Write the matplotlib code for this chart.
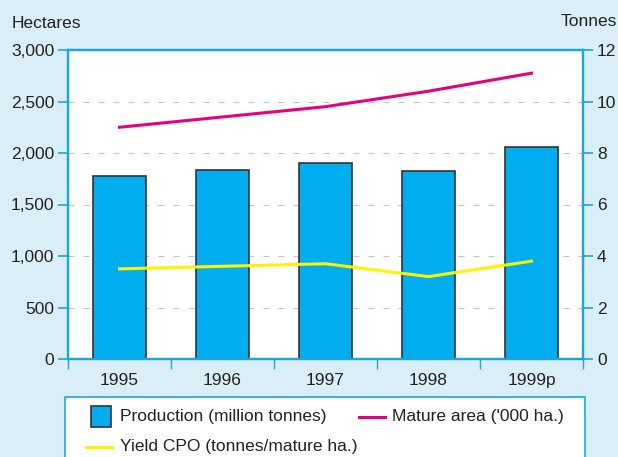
import matplotlib.pyplot as plt
from matplotlib.patches import Rectangle
from matplotlib.lines import Line2D

years = ['1995', '1996', '1997', '1998', '1999p']
production = [1780, 1835, 1905, 1825, 2055]
mature_area = [9.0, 9.4, 9.8, 10.4, 11.1]
yield_cpo = [3.5, 3.6, 3.7, 3.2, 3.8]

BG = '#d9eef6'
CYAN = '#00aeef'
AXIS = '#18a8e0'
PINK = '#e6007e'
YELLOW = '#fff200'
TEXT = '#222222'

plt.rcParams['font.family'] = ['Liberation Sans', 'DejaVu Sans']
plt.rcParams['font.size'] = 12.5

fig = plt.figure(figsize=(6.18, 4.57), dpi=100, facecolor=BG)
ax = fig.add_axes([68 / 618, 1 - 359 / 457, 515 / 618, 309 / 457])
ax2 = ax.twinx()

x = range(len(years))
ax.bar(x, production, width=0.52, color=CYAN, edgecolor='#333333',
       linewidth=1.2, zorder=2)
ax.set_xlim(-0.5, len(years) - 0.5)
ax.set_ylim(0, 3000)
ax.set_yticks(range(0, 3001, 500))
ax.set_yticklabels([f'{v:,}' for v in range(0, 3001, 500)])
for v in range(500, 3000, 500):
    ax.axhline(v, color='#c4c4c4', linewidth=0.8,
               linestyle=(0, (5.4, 8.1)), zorder=1)

ax2.plot(x, mature_area, color=PINK, linewidth=2.2, zorder=3)
ax2.plot(x, yield_cpo, color=YELLOW, linewidth=2.2, zorder=3)
ax2.set_ylim(0, 12)
ax2.set_yticks(range(0, 13, 2))

ax.set_xticks(list(x))
ax.set_xticklabels(years)
ax.set_xticks([i - 0.5 for i in range(len(years) + 1)], minor=True)
ax.tick_params(axis='x', which='major', length=0, pad=10, colors=TEXT)
ax.tick_params(axis='x', which='minor', length=7, width=1, color=AXIS)
ax.tick_params(axis='y', length=7, width=1.2, color=AXIS, labelcolor=TEXT, pad=3)
ax2.tick_params(axis='y', length=7, width=1.2, color=AXIS, labelcolor=TEXT, pad=3)

for a in (ax, ax2):
    for s in a.spines.values():
        s.set_color(AXIS)
        s.set_linewidth(1.6)
ax.set_facecolor('white')

fig.text(12 / 618, 1 - 24 / 457, 'Hectares', ha='left', va='center', color=TEXT)
fig.text(617 / 618, 1 - 22 / 457, 'Tonnes', ha='right', va='center', color=TEXT)

# legend box, running off the bottom edge
fig.patches.append(Rectangle((65 / 618, -0.05), 520 / 618, 0.05 + 60 / 457,
                             transform=fig.transFigure, facecolor='white',
                             edgecolor=AXIS, linewidth=1.2))
fig.patches.append(Rectangle((91 / 618, 1 - 427 / 457), 20 / 618, 21 / 457,
                             transform=fig.transFigure, facecolor=CYAN,
                             edgecolor='#333333', linewidth=1.2))
fig.text(120 / 618, 1 - 417 / 457, 'Production (million tonnes)',
         va='center', color=TEXT)
fig.add_artist(Line2D([359 / 618, 385 / 618], [1 - 417 / 457] * 2,
                      color=PINK, linewidth=2.2))
fig.text(392 / 618, 1 - 417 / 457, "Mature area ('000 ha.)",
         va='center', color=TEXT)
fig.add_artist(Line2D([86 / 618, 112 / 618], [1 - 447 / 457] * 2,
                      color=YELLOW, linewidth=2.2))
fig.text(120 / 618, 1 - 447 / 457, 'Yield CPO (tonnes/mature ha.)',
         va='center', color=TEXT)

fig.savefig('out.png', dpi=100, facecolor=BG)
